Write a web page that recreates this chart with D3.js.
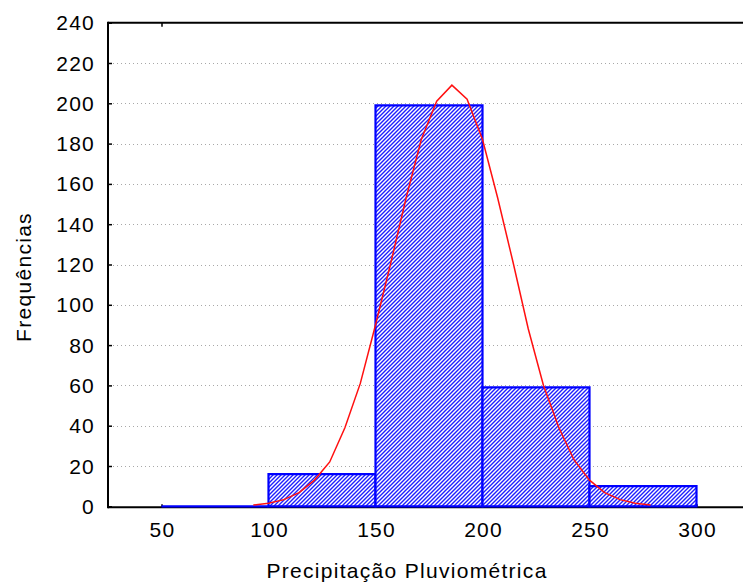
<!DOCTYPE html>
<html>
<head>
<meta charset="utf-8">
<script src="https://cdn.jsdelivr.net/npm/d3@7"></script>
<style>
    body { margin: 0; background: #fff; }
    text { font-family: "Liberation Sans", Arial, sans-serif; fill: #000; }
</style>
</head>
<body>
<svg width="743" height="583"></svg>
<script>
// histogram bins (lower edge, width 50) and counts
const binStarts = [50, 100, 150, 200, 250];
const binWidth = 50;
const frequencies = [0, 16, 199, 59, 10];

// fitted normal curve
const curveX = [92.9, 100.0, 107.2, 114.3, 121.5, 128.6, 135.7, 142.9, 150.0, 157.2, 164.3, 171.4, 178.6, 185.7,
    192.8, 200.0, 207.1, 214.3, 221.4, 228.5, 235.7, 242.8, 250.0, 257.1, 264.3, 271.4, 278.5];
const curveY = [0.6, 1.5, 3.3, 6.8, 13, 22, 39, 61, 90, 121, 153, 182, 201, 209,
    202, 182, 153, 121, 88, 60, 39, 23, 13, 6.8, 3.3, 1.5, 0.6];

// tick labels
const yTicks = [0, 20, 40, 60, 80, 100, 120, 140, 160, 180, 200, 220, 240];
const xTicks = [50, 100, 150, 200, 250, 300];

const svg = d3.select('svg');

const x = d3.scaleLinear().domain([25, 325]).range([108, 750]);
const y = d3.scaleLinear().domain([0, 240]).range([506.3, 22.7]);

// hatch pattern for the bars
const defs = svg.append('defs');
const pat = defs.append('pattern')
    .attr('id', 'hatch')
    .attr('patternUnits', 'userSpaceOnUse')
    .attr('width', 4)
    .attr('height', 4);
pat.append('rect').attr('width', 4).attr('height', 4).attr('fill', '#fff');
pat.append('path')
    .attr('d', 'M-1,1 L1,-1 M0,4 L4,0 M3,5 L5,3')
    .attr('stroke', '#1e1eff')
    .attr('stroke-width', 1.4);

// dotted grid lines
svg.append('g')
    .selectAll('line')
    .data(yTicks.filter(d => d > 0 && d < 240))
    .enter().append('line')
    .attr('x1', x(25) + 5)
    .attr('x2', 743)
    .attr('y1', d => Math.round(y(d)) + 0.5)
    .attr('y2', d => Math.round(y(d)) + 0.5)
    .attr('stroke', '#a8a8a8')
    .attr('stroke-dasharray', '1,3');

// frame
const frame = svg.append('g').attr('stroke', '#000').attr('fill', 'none');
frame.append('line')
    .attr('x1', x(25)).attr('x2', 750)
    .attr('y1', y(240)).attr('y2', y(240))
    .attr('stroke-width', 2);
frame.append('line')
    .attr('x1', x(25)).attr('x2', 750)
    .attr('y1', y(0) + 1).attr('y2', y(0) + 1)
    .attr('stroke-width', 2);
frame.append('line')
    .attr('x1', x(25)).attr('x2', x(25))
    .attr('y1', y(240) - 1).attr('y2', y(0) + 2)
    .attr('stroke-width', 2);

// axes with inward ticks, labels drawn separately
const yAxis = svg.append('g')
    .attr('transform', `translate(${x(25)},0)`)
    .call(d3.axisRight(y).tickValues(yTicks).tickSize(4).tickFormat(''));
const xAxisB = svg.append('g')
    .attr('transform', `translate(0,${y(0) + 1})`)
    .call(d3.axisTop(x).tickValues(xTicks).tickSize(3).tickFormat(''));
const xAxisT = svg.append('g')
    .attr('transform', `translate(0,${y(240)})`)
    .call(d3.axisBottom(x).tickValues([50]).tickSize(4).tickFormat(''));
[yAxis, xAxisB, xAxisT].forEach(g => {
    g.select('.domain').remove();
    g.selectAll('line').attr('stroke', '#000').attr('stroke-width', 1.5);
});

// tick labels
svg.append('g')
    .selectAll('text')
    .data(yTicks)
    .enter().append('text')
    .attr('x', 95)
    .attr('y', d => y(d))
    .attr('dy', '0.36em')
    .attr('text-anchor', 'end')
    .style('font-size', '21px')
    .style('letter-spacing', '1.2px')
    .text(d => d);

svg.append('g')
    .selectAll('text')
    .data(xTicks)
    .enter().append('text')
    .attr('x', d => x(d) + 1)
    .attr('y', 537)
    .attr('text-anchor', 'middle')
    .style('font-size', '21px')
    .style('letter-spacing', '1.2px')
    .text(d => d);

// bars, drawn as paths so the empty bin still shows its top edge
svg.append('g')
    .selectAll('path')
    .data(binStarts.map((s, i) => ({ start: s, count: frequencies[i] })))
    .enter().append('path')
    .attr('d', d => {
        const x0 = x(d.start), x1 = x(d.start + binWidth);
        const y0 = y(0), y1 = y(d.count);
        return `M${x0},${y0}V${y1}H${x1}V${y0}Z`;
    })
    .attr('fill', 'url(#hatch)')
    .attr('stroke', '#0000ff')
    .attr('stroke-width', 2.2);

// normal curve
const line = d3.line()
    .x(d => x(d[0]))
    .y(d => y(d[1]));
svg.append('path')
    .datum(curveX.map((v, i) => [v, curveY[i]]))
    .attr('d', line)
    .attr('fill', 'none')
    .attr('stroke', '#ff1010')
    .attr('stroke-width', 1.5);

// axis titles
svg.append('text')
    .attr('x', 407)
    .attr('y', 578)
    .attr('text-anchor', 'middle')
    .style('font-size', '21px')
    .style('letter-spacing', '1.3px')
    .text('Precipitação Pluviométrica');

svg.append('text')
    .attr('transform', 'translate(31,277) rotate(-90)')
    .attr('text-anchor', 'middle')
    .style('font-size', '21px')
    .style('letter-spacing', '1.3px')
    .text('Frequências');
</script>
</body>
</html>
